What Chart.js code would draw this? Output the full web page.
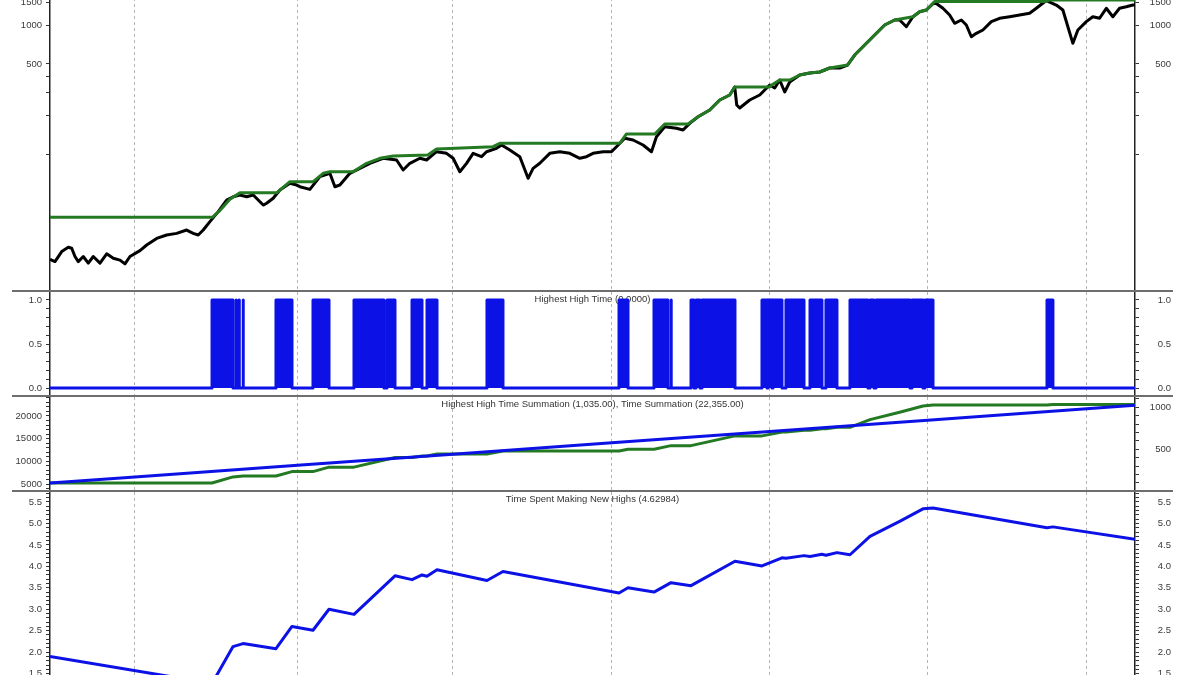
<!DOCTYPE html>
<html>
<head>
<meta charset="utf-8">
<script src="https://cdn.jsdelivr.net/npm/chart.js@4.4.1/dist/chart.umd.min.js"></script>
<style>
  html, body { margin: 0; padding: 0; background: #fff; }
  body { width: 1200px; height: 675px; overflow: hidden; position: relative; }
  .panel { position: absolute; left: 0; width: 1200px; }
  .sep { position: absolute; left: 12px; width: 1161px; height: 2px; background: #6e6e6e; }
</style>
</head>
<body>
<div class="panel" style="top:-20px;height:311px"><canvas id="priceChart"></canvas></div>
<div class="panel" style="top:292px;height:104px"><canvas id="hhChart"></canvas></div>
<div class="panel" style="top:397px;height:94px"><canvas id="sumChart"></canvas></div>
<div class="panel" style="top:492px;height:220px"><canvas id="pctChart"></canvas></div>
<div class="sep" style="top:290px"></div>
<div class="sep" style="top:395px"></div>
<div class="sep" style="top:490px"></div>
<script>
// x axis = bar number (trading day count), as in the source chart
const firstBar = 5205;
const lastBar = 22355;
// bars where the decades start: 1950, 1960, ... 2010
const decadeBars = [6548, 9119, 11572, 14085, 16581, 19077, 21590];

// price (log scale), [bar, close]
const closeSeries = [
  [5205,15.5],[5284,14.9],[5390,17.8],[5494,19.2],[5548,18.9],[5600,16.3],[5652,14.9],[5731,16.3],
  [5810,14.5],[5889,16.3],[5995,14.5],[6101,17.1],[6205,15.8],[6311,15.3],[6390,14.3],[6469,16.3],
  [6627,18.1],[6733,20.0],[6891,22.5],[7049,23.9],[7207,24.6],[7365,26.1],[7469,24.6],[7548,23.9],
  [7627,26.1],[7733,30.3],[7864,36.2],[7997,44.5],[8101,47.2],[8207,48.7],[8313,47.2],[8417,48.7],
  [8496,44.5],[8575,40.7],[8629,42.0],[8733,45.9],[8839,53.2],[8997,59.9],[9103,58.1],[9155,56.4],
  [9313,53.8],[9471,67.4],[9629,71.6],[9708,56.4],[9787,58.1],[9945,71.6],[10103,78.2],[10261,85.5],
  [10471,93.5],[10683,90.7],[10787,75.9],[10893,85.5],[11051,93.5],[11157,90.7],[11315,105.1],[11473,102.1],
  [11577,93.5],[11683,73.6],[11789,85.5],[11893,102.1],[12026,96.2],[12105,105.1],[12263,111.6],[12342,118.4],
  [12473,108.3],[12631,96.2],[12762,65.5],[12841,78.2],[12947,85.5],[13105,102.1],[13263,105.1],[13421,102.1],
  [13579,93.5],[13685,96.2],[13789,102.1],[13947,105.1],[14080,105.1],[14159,114.9],[14290,133.4],[14421,129.4],
  [14579,118.4],[14712,105.1],[14791,137.3],[14922,164.0],[15107,159.4],[15211,154.5],[15317,174.1],[15448,195.8],
  [15633,220.7],[15791,263.5],[15949,288.0],[16028,332.0],[16060,241.2],[16107,228.6],[16265,263.5],[16423,288.0],
  [16581,344.0],[16660,326.2],[16739,376.0],[16818,303.9],[16897,363.0],[17055,411.1],[17213,425.9],[17371,433.6],
  [17529,465.6],[17687,465.6],[17813,491.2],[17924,586.5],[18082,700.6],[18240,837.0],[18398,1000],[18556,1093],
  [18635,1093],[18741,970],[18845,1159],[18951,1267],[19057,1306],[19188,1500],[19319,1346],[19425,1194],
  [19504,1031],[19610,1093],[19689,1000],[19768,812],[19847,863],[19951,915],[20084,1061],[20215,1127],
  [20373,1159],[20531,1194],[20689,1231],[20795,1346],[20953,1545],[21111,1427],[21215,1306],[21294,970],
  [21373,722],[21452,915],[21585,1061],[21689,1159],[21795,1127],[21901,1346],[22005,1159],[22111,1346],
  [22217,1384],[22321,1427],[22355,1427]
];

// highest high so far, [bar, value]
const highestHigh = [
  [5205,32.7],[7770,32.7],[7880,36.5],[8049,45.1],[8207,50.7],[8792,50.7],[8997,61.7],[9365,61.7],
  [9523,71.6],[9629,73.6],[9997,73.6],[10209,85.5],[10419,93.5],[10629,97.4],[11177,99.1],[11315,110.3],
  [12209,114.9],[12315,122.0],[14211,122.0],[14317,144.0],[14764,144.0],[14922,172.0],[15290,172.0],[15448,195.8],
  [15633,220.7],[15791,263.5],[15949,288.0],[16028,332.0],[16581,332.0],[16613,344.0],[16739,376.0],[16897,376.0],
  [17055,411.1],[17213,425.9],[17371,433.6],[17529,465.6],[17813,491.2],[17924,586.5],[18082,700.6],[18240,837.0],
  [18398,1000],[18556,1093],[18845,1159],[18951,1267],[19057,1306],[19188,1520],[20953,1520],[21005,1560],
  [22355,1560]
];

// stretches of bars where Highest High Time = 1, [startBar, endBar]
const newHighRuns = [
  [7766,8098],[8145,8150],[8192,8197],[8256,8261],[8777,9030],[9362,9615],[10010,10484],[10532,10658],
  [10927,11085],[11164,11322],[12112,12365],[14199,14341],[14752,14973],[15021,15026],[15337,15384],
  [15416,15479],[15511,16032],[16459,16538],[16554,16617],[16633,16775],[16838,17123],[17218,17407],
  [17470,17644],[17850,18134],[18166,18229],[18261,18798],[18830,19004],[19035,19162],[20964,21058]
];

// Highest High Time Summation (right axis), [bar, count]
const highSum = [
  [5205,99],[7766,99],[8098,172],[8256,182],[8777,182],[9030,235],[9362,235],[9615,288],
  [10010,288],[10658,403],[10927,403],[11085,421],[11164,421],[11322,444],[12112,444],[12365,480],
  [14199,480],[14341,502],[14752,502],[15021,544],[15337,544],[16032,660],[16459,660],[16775,705],
  [16838,705],[17123,728],[17218,728],[17407,745],[17470,745],[17644,762],[17850,762],[18166,854],
  [18635,941],[19004,1015],[19162,1027],[20964,1027],[21058,1035],[22355,1035]
];

// Time Summation (left axis), [bar, count]
const timeSum = [
  [5205,5210],[6548,6550],[9119,9120],[11572,11570],[14085,14090],[16581,16580],[19077,19080],
  [21590,21590],[22355,22355]
];

// Time Spent Making New Highs (%), [bar, value]
const pctNewHighs = [
  [5205,1.90],[7766,1.27],[8098,2.13],[8256,2.20],[8777,2.08],[9030,2.60],[9362,2.51],[9615,3.00],
  [10010,2.88],[10658,3.78],[10927,3.69],[11085,3.80],[11164,3.77],[11322,3.92],[12112,3.67],[12365,3.88],
  [14199,3.38],[14341,3.50],[14752,3.40],[15021,3.62],[15337,3.55],[16032,4.12],[16459,4.01],[16775,4.20],
  [16838,4.19],[17123,4.25],[17218,4.23],[17407,4.28],[17470,4.26],[17644,4.32],[17850,4.27],[18166,4.70],
  [18635,5.05],[19004,5.34],[19162,5.36],[20964,4.90],[21058,4.92],[22355,4.63]
];

// tick labels
const priceTicks = [100, 200, 300, 400, 500, 1000, 1500];
const priceLabels = [500, 1000, 1500];
const flagLabels = [0, 0.5, 1];
const timeSumLabels = [5000, 10000, 15000, 20000];
const highSumLabels = [500, 1000];
const pctLabels = [1.0, 1.5, 2.0, 2.5, 3.0, 3.5, 4.0, 4.5, 5.0, 5.5];

const green = '#237a23';
const blue = '#0c12e6';
const font = { family: "'Liberation Sans', Arial, sans-serif", size: 9.5 };

function steps(from, to, step) {
  const out = [];
  for (let v = from; v <= to + 1e-9; v += step) out.push(Math.round(v * 1000) / 1000);
  return out;
}
const pts = arr => arr.map(([x, y]) => ({ x, y }));

const panelTitle = {
  id: 'panelTitle',
  beforeDatasetsDraw(chart, args, opts) {
    if (!opts || !opts.text) return;
    const { ctx, chartArea } = chart;
    ctx.save();
    ctx.font = "9.5px 'Liberation Sans', Arial, sans-serif";
    ctx.fillStyle = '#333';
    ctx.textAlign = 'center';
    ctx.textBaseline = 'middle';
    ctx.fillText(opts.text, (chartArea.left + chartArea.right) / 2, chartArea.top + 7);
    ctx.restore();
  }
};

const xAxis = {
  type: 'linear',
  min: firstBar,
  max: lastBar,
  bounds: 'data',
  afterBuildTicks: s => { s.ticks = decadeBars.map(v => ({ value: v })); },
  afterFit: s => { s.height = 0; s.paddingLeft = 0; s.paddingRight = 0; },
  ticks: { display: false },
  grid: { color: '#b4b4b4', lineWidth: 1, drawTicks: false },
  border: { display: false, dash: [3, 3] }
};

function yAxis(side, type, min, max, tickValues, labelValues, fmt) {
  return {
    type: type,
    axis: 'y',
    position: side,
    min: min,
    max: max,
    bounds: 'data',
    afterBuildTicks: s => { s.ticks = tickValues.map(v => ({ value: v })); },
    afterFit: s => { s.width = side === 'left' ? 50 : 36; s.paddingTop = 0; s.paddingBottom = 0; },
    ticks: {
      autoSkip: false,
      font: font,
      color: '#3a3a3a',
      padding: 4,
      crossAlign: side === 'left' ? 'near' : 'far',
      callback: v => labelValues.some(l => Math.abs(l - v) < 1e-6) ? fmt(v) : ''
    },
    grid: { drawOnChartArea: false, drawTicks: true, tickLength: 4, tickColor: '#333' },
    border: { display: true, color: '#222', width: 1.5 }
  };
}

function baseOptions(scales, title) {
  return {
    responsive: true,
    maintainAspectRatio: false,
    animation: false,
    events: [],
    layout: { padding: { left: 0, right: 29, top: 0, bottom: 0 } },
    plugins: { legend: { display: false }, tooltip: { enabled: false }, panelTitle: { text: title } },
    elements: { point: { radius: 0 }, line: { tension: 0, borderJoinStyle: 'round' } },
    scales: scales
  };
}

const int = v => String(v);
const one = v => v.toFixed(1);

// price panel
new Chart(document.getElementById('priceChart'), {
  type: 'line',
  data: {
    datasets: [
      { data: pts(highestHigh), borderColor: green, borderWidth: 3, yAxisID: 'y' },
      { data: pts(closeSeries), borderColor: '#000', borderWidth: 3, yAxisID: 'y' }
    ]
  },
  options: baseOptions({
    x: xAxis,
    y: yAxis('left', 'logarithmic', 8.83, 2226, priceTicks, priceLabels, int),
    yR: yAxis('right', 'logarithmic', 8.83, 2226, priceTicks, priceLabels, int)
  }, ''),
  plugins: [panelTitle]
});

// Highest High Time
const flagPoints = [{ x: firstBar, y: 0 }];
newHighRuns.forEach(([s, e]) => {
  flagPoints.push({ x: s, y: 0 }, { x: s, y: 1 }, { x: e, y: 1 }, { x: e, y: 0 });
});
flagPoints.push({ x: lastBar, y: 0 });

new Chart(document.getElementById('hhChart'), {
  type: 'line',
  data: {
    datasets: [
      { data: flagPoints, borderColor: blue, backgroundColor: blue, borderWidth: 3, fill: 'origin', yAxisID: 'y' }
    ]
  },
  options: baseOptions({
    x: xAxis,
    y: yAxis('left', 'linear', -0.0909, 1.0909, steps(0, 1, 0.1), flagLabels, one),
    yR: yAxis('right', 'linear', -0.0909, 1.0909, steps(0, 1, 0.1), flagLabels, one)
  }, 'Highest High Time (0.0000)'),
  plugins: [panelTitle]
});

// summations
new Chart(document.getElementById('sumChart'), {
  type: 'line',
  data: {
    datasets: [
      { data: pts(timeSum), borderColor: blue, borderWidth: 3, yAxisID: 'y' },
      { data: pts(highSum), borderColor: green, borderWidth: 3, yAxisID: 'yR' }
    ]
  },
  options: baseOptions({
    x: xAxis,
    y: yAxis('left', 'linear', 3456, 24191, steps(4000, 24000, 1000), timeSumLabels, int),
    yR: yAxis('right', 'linear', 4, 1123, steps(100, 1100, 100), highSumLabels, int)
  }, 'Highest High Time Summation (1,035.00), Time Summation (22,355.00)'),
  plugins: [panelTitle]
});

// Time Spent Making New Highs
new Chart(document.getElementById('pctChart'), {
  type: 'line',
  data: {
    datasets: [
      { data: pts(pctNewHighs), borderColor: blue, borderWidth: 3, yAxisID: 'y' }
    ]
  },
  options: baseOptions({
    x: xAxis,
    y: yAxis('left', 'linear', 0.605, 5.733, steps(0.7, 5.7, 0.1), pctLabels, one),
    yR: yAxis('right', 'linear', 0.605, 5.733, steps(0.7, 5.7, 0.1), pctLabels, one)
  }, 'Time Spent Making New Highs (4.62984)'),
  plugins: [panelTitle]
});
</script>
</body>
</html>
